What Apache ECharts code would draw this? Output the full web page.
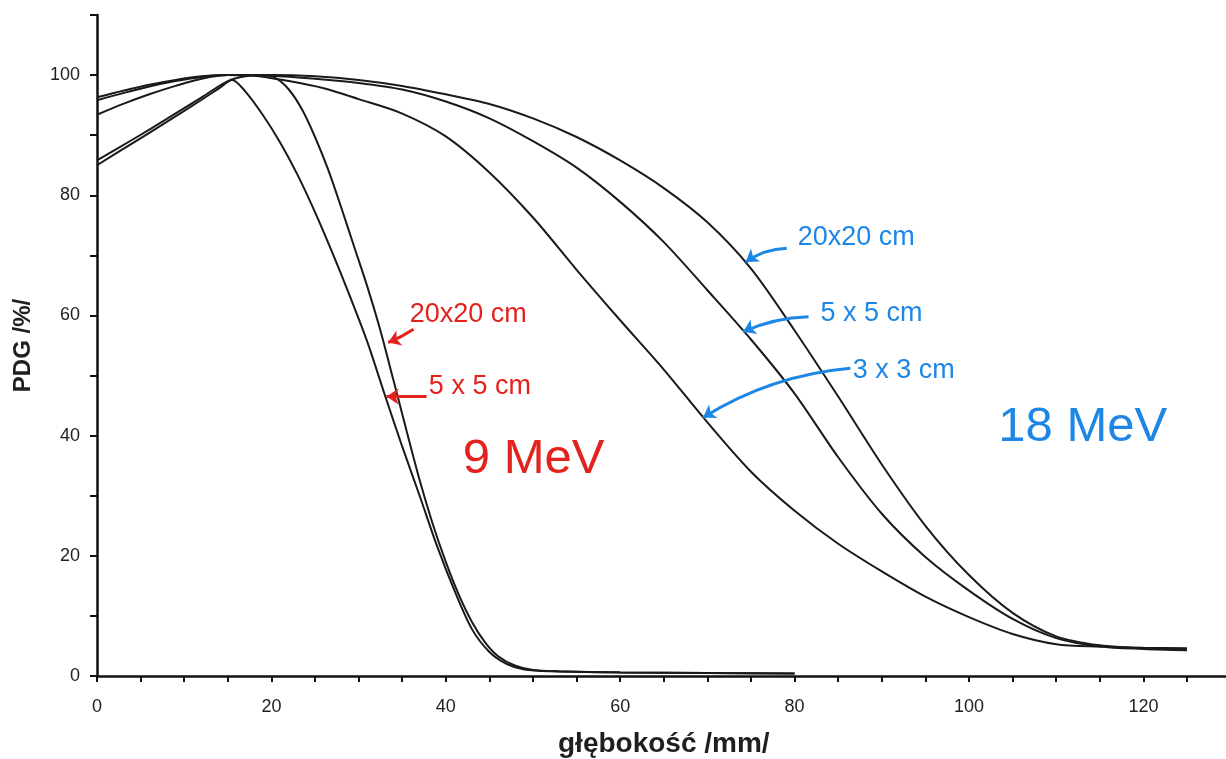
<!DOCTYPE html>
<html>
<head>
<meta charset="utf-8">
<script src="https://cdn.jsdelivr.net/npm/echarts@6/dist/echarts.min.js"></script>
<style>
  html, body { margin: 0; padding: 0; background: #ffffff; }
  #chart { width: 1226px; height: 759px; }
</style>
</head>
<body>
<div id="chart"></div>
<script>
// ---- data (depth in mm, PDG in %) ----
const xAxisName = 'głębokość /mm/';
const yAxisName = 'PDG /%/';
const xTickLabels = [0, 20, 40, 60, 80, 100, 120];
const yTickLabels = [0, 20, 40, 60, 80, 100];

const mev9_5x5 = [[0,85.0],[4,88.6],[8,92.2],[12,95.9],[14,97.8],[15.5,99.2],[17,97.3],[19,93.4],[21,88.8],[23,83.4],[25,77.2],[27,70.4],[29,63.2],[31,55.6],[33,46.8],[35,38.2],[37,30.0],[39,21.6],[41,14.2],[43,7.8],[45,4.0],[47,2.0],[49,1.1],[52,0.8],[60,0.6],[70,0.5],[80,0.4]];
const mev9_20x20 = [[0,85.8],[4,89.2],[8,92.7],[12,96.3],[15,99.0],[17,99.8],[19,100],[20.5,99.5],[22,97.6],[23.5,94.3],[25,89.7],[26.5,84.3],[28,78.0],[29.5,71.4],[31,64.8],[32.5,57.5],[34,49.2],[35.5,40.8],[37,32.6],[38.5,25.3],[40,19.0],[41.5,13.5],[43,9.0],[44.5,5.6],[46,3.3],[48,1.7],[50,1.0],[53,0.8],[60,0.6],[70,0.5],[80,0.4]];
const mev18_20x20 = [[0,96.3],[3,97.4],[6,98.4],[9,99.2],[12,99.8],[15,100],[20,100],[25,99.8],[30,99.2],[35,98.2],[40,96.8],[45,95.2],[50,92.8],[55,89.7],[60,85.8],[65,81.2],[70,75.5],[75,67.8],[80,57.5],[85,46.5],[90,35.2],[95,25.0],[100,16.8],[105,10.5],[110,6.6],[115,5.1],[120,4.6],[125,4.5]];
const mev18_5x5 = [[0,95.8],[3,97.0],[6,98.1],[9,99.0],[12,99.7],[15,100],[20,99.9],[25,99.4],[30,98.7],[35,97.6],[40,95.6],[45,92.8],[50,89.0],[55,84.6],[60,78.9],[65,72.2],[70,64.2],[75,56.0],[80,47.0],[85,36.4],[90,27.0],[95,19.8],[100,14.2],[105,9.5],[110,6.3],[115,4.9],[120,4.5],[125,4.3]];
const mev18_3x3 = [[0,93.4],[3,95.2],[6,96.8],[9,98.2],[12,99.4],[15,100],[18,99.9],[22,99.0],[26,97.8],[30,96.0],[35,93.6],[40,89.8],[45,83.8],[50,76.3],[55,67.6],[60,59.2],[65,51.0],[70,42.2],[75,34.0],[80,27.5],[85,22.0],[90,17.4],[95,13.2],[100,9.8],[105,7.0],[110,5.3],[115,4.9],[120,4.7],[125,4.6]];

// annotation texts and their anchor points (data coords: left edge, vertical middle)
const annoTexts = ['20x20 cm', '5 x 5 cm', '9 MeV', '20x20 cm', '5 x 5 cm', '3 x 3 cm', '18 MeV'];
const annoAnchors = [[35.8,60.2],[38.0,48.1],[41.9,36.0],[80.3,72.9],[82.9,60.4],[86.6,50.9],[103.3,41.3]];
// arrows: [tail, head] in data coords
const arrowCoords = [
  [[36.3,57.7],[33.4,55.5]],
  [[37.8,46.5],[33.2,46.5]],
  [[79.1,71.2],[74.4,68.9]],
  [[81.6,59.8],[74.1,57.3]],
  [[86.4,51.2],[69.5,43.0]]
];

// ---- styles ----
const RED = '#e3221d';
const BLUE = '#1e86e4';
const annoColors = [RED, RED, RED, BLUE, BLUE, BLUE, BLUE];
const annoSizes = [27, 27, 49, 27, 27, 27, 49];
const arrowColors = [RED, RED, BLUE, BLUE, BLUE];
const arrowCurve = [0.05, 0, -0.15, -0.1, -0.12];
const FONT = '"Liberation Sans", Arial, sans-serif';

function curve(data) {
  return {
    type: 'line', data: data, smooth: 0.3, showSymbol: false, symbol: 'none',
    lineStyle: { color: '#1a1a1a', width: 2 }, silent: true, z: 3
  };
}

const chart = echarts.init(document.getElementById('chart'), null, { renderer: 'canvas' });
const option = {
  backgroundColor: '#ffffff',
  animation: false,
  grid: { left: 97, top: 15, right: -4.6, bottom: 83, outerBoundsMode: 'none', containLabel: false },
  xAxis: {
    type: 'value', min: 0, max: 130, interval: 5,
    name: xAxisName, nameLocation: 'middle', nameGap: 54,
    nameTextStyle: { fontFamily: FONT, fontWeight: 'bold', fontSize: 28, color: '#1f1f1f' },
    axisLine: { show: true, onZero: false, lineStyle: { color: '#111', width: 2.5 } },
    axisTick: { show: true, inside: false, length: 6, lineStyle: { color: '#111', width: 2 } },
    axisLabel: {
      fontFamily: FONT, fontSize: 18, color: '#222', margin: 22, showMaxLabel: false,
      formatter: v => xTickLabels.indexOf(v) >= 0 ? String(v) : ''
    },
    splitLine: { show: false }
  },
  yAxis: {
    type: 'value', min: 0, max: 110, interval: 10,
    name: yAxisName, nameLocation: 'middle', nameGap: 62, nameRotate: 90,
    nameTextStyle: { fontFamily: FONT, fontWeight: 'bold', fontSize: 24, color: '#1f1f1f' },
    axisLine: { show: true, onZero: false, lineStyle: { color: '#111', width: 2.5 } },
    axisTick: { show: true, inside: false, length: 7, lineStyle: { color: '#111', width: 2 } },
    axisLabel: {
      fontFamily: FONT, fontSize: 18, color: '#222', margin: 17,
      formatter: v => yTickLabels.indexOf(v) >= 0 ? String(v) : ''
    },
    splitLine: { show: false }
  },
  series: [
    curve(mev9_5x5),
    curve(mev9_20x20),
    curve(mev18_3x3),
    curve(mev18_5x5),
    curve(mev18_20x20),
    {
      type: 'lines', coordinateSystem: 'cartesian2d', polyline: false, silent: true, z: 5,
      symbol: ['none', 'arrow'], symbolSize: 12,
      data: arrowCoords.map((c, i) => ({
        coords: c,
        lineStyle: { color: arrowColors[i], width: 3, curveness: arrowCurve[i], opacity: 1 }
      }))
    },
    {
      type: 'scatter', silent: true, z: 6, symbolSize: 1,
      itemStyle: { color: 'rgba(0,0,0,0)', opacity: 1 },
      data: annoAnchors.map((p, i) => ({
        value: p, name: annoTexts[i],
        label: {
          show: true, position: 'right', distance: 0, formatter: '{b}', opacity: 1,
          color: annoColors[i], fontSize: annoSizes[i], fontFamily: FONT, verticalAlign: 'middle'
        }
      }))
    }
  ]
};
chart.setOption(option);
</script>
</body>
</html>
